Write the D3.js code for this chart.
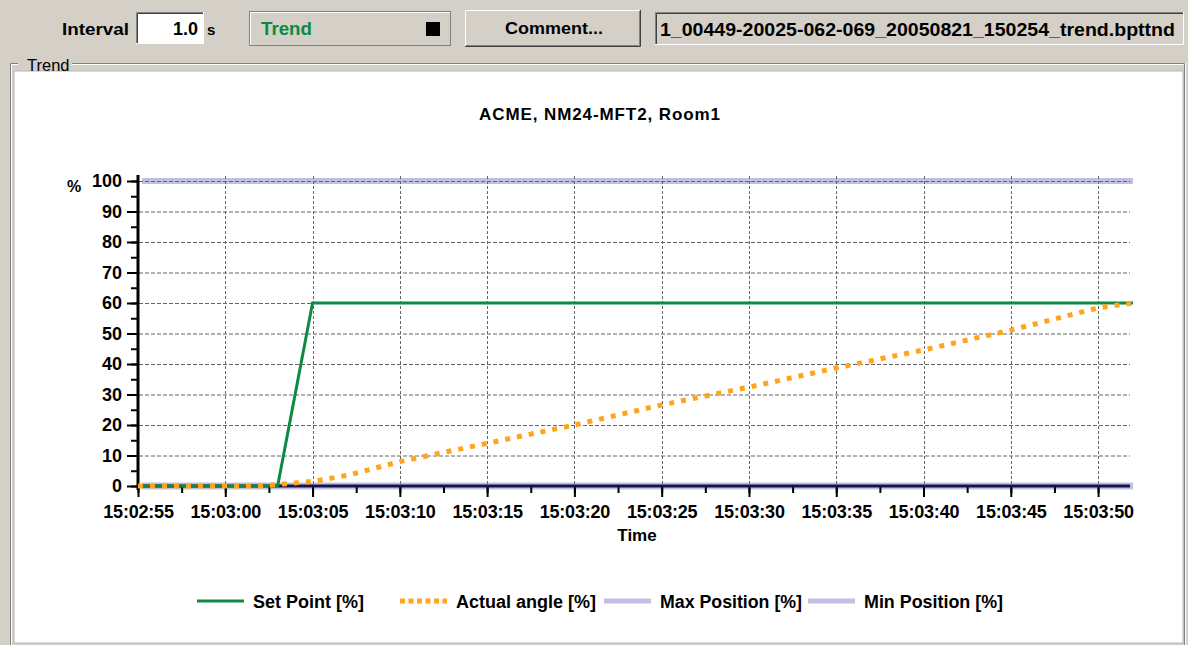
<!DOCTYPE html>
<html>
<head>
<meta charset="utf-8">
<script src="https://cdn.jsdelivr.net/npm/d3@7"></script>
<style>
  html, body { margin: 0; padding: 0; background: #d4d0c8; }
  svg { display: block; }
  text { font-family: "Liberation Sans", Arial, sans-serif; }
</style>
</head>
<body>
<svg id="app" width="1188" height="645"></svg>
<script>
// ---- chart data ----
const chartTitle = "ACME, NM24-MFT2, Room1";
const fileName = "1_00449-20025-062-069_20050821_150254_trend.bpttnd";
const intervalValue = "1.0";

const timeDomain = ["15:02:55", "15:03:52"];

const setPointTimes = ["15:02:55", "15:03:03", "15:03:05", "15:03:52"];
const setPointValues = [0, 0, 60, 60];

const actualTimes = ["15:02:55", "15:03:02", "15:03:03", "15:03:05", "15:03:07", "15:03:10",
                     "15:03:15", "15:03:20", "15:03:25", "15:03:30", "15:03:35",
                     "15:03:40", "15:03:45", "15:03:50", "15:03:52"];
const actualValues = [0, 0, 0.5, 1.5, 3.5, 8, 14, 20, 26.6, 32.4, 38.7, 44.6, 51.1, 58.4, 60];

const maxPositionValue = 100;
const minPositionValue = 0;

const yTickValues = [0, 10, 20, 30, 40, 50, 60, 70, 80, 90, 100];
const seriesNames = ["Set Point [%]", "Actual angle [%]", "Max Position [%]", "Min Position [%]"];

// ---- helpers ----
const parseT = t => {
  const [h, m, s] = t.split(":").map(Number);
  return new Date(2005, 7, 21, h, m, s);
};
const svg = d3.select("#app");
const FACE = "#d4d0c8", DARK = "#808080", DARKER = "#404040";
const GREEN = "#0c8a42", ORANGE = "#ffa41c", LAVENDER = "#c0c0e2", NAVY = "#141446";

function sunken(x, y, w, h, fill) {
  const g = svg.append("g");
  g.append("rect").attr("x", x).attr("y", y).attr("width", w).attr("height", h).attr("fill", fill);
  g.append("path").attr("d", `M${x + 0.5},${y + h}V${y + 0.5}H${x + w}`).attr("stroke", DARK).attr("fill", "none");
  g.append("path").attr("d", `M${x + 1.5},${y + h - 1}V${y + 1.5}H${x + w - 1}`).attr("stroke", DARKER).attr("fill", "none");
  g.append("path").attr("d", `M${x},${y + h - 0.5}H${x + w - 0.5}V${y}`).attr("stroke", "#ffffff").attr("fill", "none");
  return g;
}
function raised(x, y, w, h) {
  const g = svg.append("g");
  g.append("rect").attr("x", x).attr("y", y).attr("width", w).attr("height", h).attr("fill", FACE);
  g.append("path").attr("d", `M${x + 0.5},${y + h}V${y + 0.5}H${x + w}`).attr("stroke", "#ffffff").attr("fill", "none");
  g.append("path").attr("d", `M${x},${y + h - 0.5}H${x + w - 0.5}V${y}`).attr("stroke", DARKER).attr("fill", "none");
  g.append("path").attr("d", `M${x + 1},${y + h - 1.5}H${x + w - 1.5}V${y + 1}`).attr("stroke", DARK).attr("fill", "none");
  return g;
}

// ---- toolbar ----
svg.append("rect").attr("width", 1188).attr("height", 645).attr("fill", FACE);
svg.append("text").attr("x", 62).attr("y", 35).attr("font-weight", "bold").attr("font-size", 17)
  .attr("textLength", 67).attr("lengthAdjust", "spacingAndGlyphs").text("Interval");
sunken(136, 12, 68, 32, "#ffffff");
svg.append("text").attr("x", 198).attr("y", 35).attr("text-anchor", "end").attr("font-weight", "bold").attr("font-size", 18).text(intervalValue);
svg.append("text").attr("x", 207).attr("y", 35).attr("font-weight", "bold").attr("font-size", 15).text("s");

svg.append("rect").attr("x", 249.5).attr("y", 11.5).attr("width", 201).attr("height", 34).attr("fill", FACE).attr("stroke", DARK);
svg.append("path").attr("d", "M250.5,45V12.5H450").attr("stroke", "#ffffff").attr("fill", "none");
svg.append("text").attr("x", 261).attr("y", 35).attr("font-weight", "bold").attr("font-size", 18)
  .attr("textLength", 51).attr("lengthAdjust", "spacingAndGlyphs").attr("fill", GREEN).text("Trend");
svg.append("rect").attr("x", 426).attr("y", 22).attr("width", 14).attr("height", 14).attr("fill", "#000");

raised(465, 10, 176, 37);
svg.append("text").attr("x", 505).attr("y", 34).attr("font-weight", "bold").attr("font-size", 17)
  .attr("textLength", 98).attr("lengthAdjust", "spacingAndGlyphs").text("Comment...");

sunken(655, 12, 529, 33, FACE);
svg.append("text").attr("x", 660).attr("y", 36).attr("font-weight", "bold").attr("font-size", 19)
  .attr("textLength", 515).attr("lengthAdjust", "spacingAndGlyphs").text(fileName);

// ---- group box ----
svg.append("path").attr("d", "M10.5,645V63.5H1184.5V645").attr("stroke", DARK).attr("fill", "none");
svg.append("path").attr("d", "M11.5,645V64.5H1183.5").attr("stroke", "#ffffff").attr("fill", "none");
svg.append("path").attr("d", "M1185.5,63V645").attr("stroke", "#ffffff").attr("fill", "none");
svg.append("rect").attr("x", 14).attr("y", 71).attr("width", 1169).attr("height", 572).attr("fill", "#ffffff")
  .attr("stroke", "#b8b8b8");
svg.append("rect").attr("x", 18).attr("y", 56).attr("width", 54).attr("height", 14).attr("fill", FACE);
svg.append("text").attr("x", 27).attr("y", 71).attr("font-size", 16.5).text("Trend");

// ---- chart ----
const x = d3.scaleTime().domain(timeDomain.map(parseT)).range([138, 1133]);
const y = d3.scaleLinear().domain([0, 100]).range([486, 181]);
const t0 = parseT(timeDomain[0]), t1 = parseT(timeDomain[1]);
const majorTimes = d3.timeSecond.every(5).range(t0, d3.timeSecond.offset(t1, 1));
const minorTimes = d3.range(0, 58, 2.5).map(s => new Date(+t0 + s * 1000)).filter(d => d <= t1);
const yMinor = d3.range(0, 101, 5);

svg.append("text").attr("x", 600).attr("y", 120).attr("text-anchor", "middle").attr("font-weight", "bold")
  .attr("font-size", 17).attr("letter-spacing", 0.9).text(chartTitle);

const plot = svg.append("g");

// limit bands
const xs = x.range();
plot.append("line").attr("x1", xs[0] + 4).attr("x2", xs[1]).attr("y1", y(maxPositionValue)).attr("y2", y(maxPositionValue))
  .attr("stroke", LAVENDER).attr("stroke-width", 6);
plot.append("line").attr("x1", xs[0] + 4).attr("x2", xs[1]).attr("y1", y(minPositionValue)).attr("y2", y(minPositionValue))
  .attr("stroke", LAVENDER).attr("stroke-width", 7);

// grid
plot.append("g").selectAll("line").data(yTickValues.filter(v => v > 0)).join("line")
  .attr("x1", 139).attr("x2", 1130).attr("y1", d => y(d) + 0.5).attr("y2", d => y(d) + 0.5)
  .attr("stroke", "#666").attr("stroke-dasharray", "4,2");
plot.append("g").selectAll("line").data(majorTimes.slice(1)).join("line")
  .attr("x1", d => Math.round(x(d)) + 0.5).attr("x2", d => Math.round(x(d)) + 0.5).attr("y1", 176).attr("y2", 486)
  .attr("stroke", "#666").attr("stroke-dasharray", "3,2");

// axes
const fmt = d3.timeFormat("%H:%M:%S");
const xAxis = plot.append("g").attr("transform", `translate(0,${y(0)})`)
  .call(d3.axisBottom(x).tickValues(majorTimes).tickFormat(fmt).tickSize(11).tickSizeOuter(0).tickPadding(8));
plot.append("g").attr("transform", `translate(0,${y(0)})`)
  .call(d3.axisBottom(x).tickValues(minorTimes).tickFormat("").tickSize(7).tickSizeOuter(0))
  .call(g => g.select(".domain").remove());
const yAxis = plot.append("g").attr("transform", `translate(${x.range()[0]},0)`)
  .call(d3.axisLeft(y).tickValues(yTickValues).tickSize(11).tickSizeOuter(0).tickPadding(5));
plot.append("g").attr("transform", `translate(${x.range()[0]},0)`)
  .call(d3.axisLeft(y).tickValues(yMinor).tickFormat("").tickSize(7).tickSizeOuter(0))
  .call(g => g.select(".domain").remove());

plot.selectAll(".tick line").attr("stroke", "#000").attr("stroke-width", 2);
plot.selectAll(".tick text").attr("font-family", "'Liberation Sans', Arial, sans-serif")
  .attr("font-weight", "bold").attr("font-size", 18).attr("fill", "#000");
xAxis.selectAll(".tick text").attr("letter-spacing", -0.2);
xAxis.select(".domain").remove();
yAxis.select(".domain").remove();

plot.append("line").attr("x1", 138).attr("x2", 138).attr("y1", 175).attr("y2", 490)
  .attr("stroke", "#000").attr("stroke-width", 3);
plot.append("line").attr("x1", 138).attr("x2", 1130).attr("y1", y(0)).attr("y2", y(0))
  .attr("stroke", NAVY).attr("stroke-width", 3);

svg.append("text").attr("x", 67).attr("y", 192).attr("font-weight", "bold").attr("font-size", 16).text("%");
svg.append("text").attr("x", 637).attr("y", 541).attr("text-anchor", "middle").attr("font-weight", "bold")
  .attr("font-size", 17).text("Time");

// series
const line = d3.line().x(d => x(d[0])).y(d => y(d[1]));
const setPts = setPointTimes.map((t, i) => [parseT(t), setPointValues[i]]);
const actPts = actualTimes.map((t, i) => [parseT(t), actualValues[i]]);
plot.append("path").datum(setPts).attr("d", line).attr("fill", "none")
  .attr("stroke", GREEN).attr("stroke-width", 3);
plot.append("path").datum(actPts).attr("d", line).attr("fill", "none")
  .attr("stroke", ORANGE).attr("stroke-width", 5).attr("stroke-dasharray", "5,7");

// legend
const legendItems = [
  { name: seriesNames[0], color: GREEN, width: 3, dash: null, x: 197, w: 111 },
  { name: seriesNames[1], color: ORANGE, width: 5, dash: "5,3.5", x: 400, w: 140 },
  { name: seriesNames[2], color: LAVENDER, width: 5, dash: null, x: 604, w: 142 },
  { name: seriesNames[3], color: LAVENDER, width: 5, dash: null, x: 808, w: 139 }
];
const lg = svg.append("g").selectAll("g").data(legendItems).join("g")
  .attr("transform", d => `translate(${d.x},601)`);
lg.append("line").attr("x1", 0).attr("x2", 47).attr("stroke", d => d.color)
  .attr("stroke-width", d => d.width).attr("stroke-dasharray", d => d.dash);
lg.append("text").attr("x", 56).attr("y", 7).attr("font-weight", "bold").attr("font-size", 18)
  .attr("textLength", d => d.w).attr("lengthAdjust", "spacingAndGlyphs").text(d => d.name);
</script>
</body>
</html>
